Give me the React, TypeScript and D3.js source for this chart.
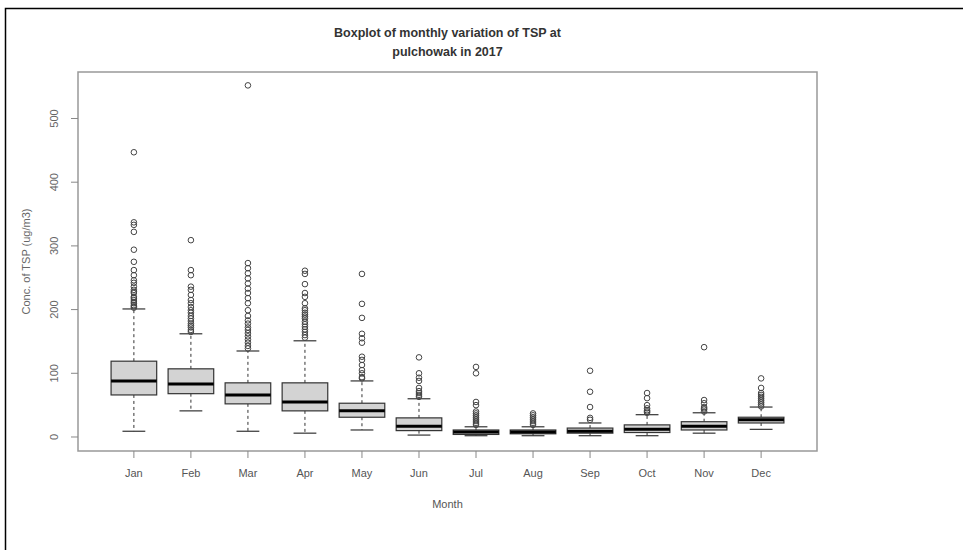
import React, { useEffect, useRef } from 'react';
import * as d3 from 'd3';

const months = ['Jan', 'Feb', 'Mar', 'Apr', 'May', 'Jun', 'Jul', 'Aug', 'Sep', 'Oct', 'Nov', 'Dec'];
const lowerWhisker = [9, 41, 9, 6, 11, 3, 2, 2, 2, 2, 6, 12];
const q1 = [66, 68, 52, 41, 31, 10, 4, 5, 6, 7, 11, 22];
const medians = [88, 83, 66, 55, 41, 17, 8, 8, 9, 12, 17, 27];
const q3 = [119, 107, 85, 85, 53, 30, 11, 11, 14, 19, 24, 31];
const upperWhisker = [201, 162, 135, 151, 88, 60, 16, 16, 22, 35, 38, 47];
const outliers = [
  [447, 337, 333, 322, 294, 275, 262, 254, 246, 242, 236, 231, 228, 226, 220, 218, 215, 212, 210, 207, 205, 203],
  [309, 262, 254, 236, 231, 223, 215, 210, 204, 199, 195, 190, 186, 182, 178, 175, 172, 168, 165],
  [552, 273, 265, 257, 249, 241, 233, 226, 218, 210, 199, 190, 183, 178, 172, 168, 163, 158, 153, 148, 143, 139],
  [261, 256, 240, 226, 220, 210, 202, 199, 195, 192, 189, 186, 181, 177, 173, 169, 165, 160, 156],
  [256, 209, 187, 162, 155, 148, 126, 121, 113, 105, 100, 94, 92],
  [125, 100, 93, 88, 77, 72, 69, 66, 63],
  [110, 100, 55, 50, 40, 37, 34, 31, 28, 25, 22, 19],
  [37, 34, 31, 28, 25, 22, 19],
  [104, 71, 47, 30, 27],
  [69, 61, 50, 45, 42, 40, 38],
  [141, 58, 53, 47, 45, 43, 40],
  [92, 77, 69, 66, 63, 60, 57, 54, 51, 48],
];
const yTicks = [0, 100, 200, 300, 400, 500];

const W = 963;
const H = 550;
const font = 'Liberation Sans, Arial, sans-serif';

const App: React.FC = () => {
  const svgRef = useRef<SVGSVGElement>(null);

  useEffect(() => {
    if (!svgRef.current) return;
    const svg = d3.select(svgRef.current);
    svg.selectAll('*').remove();

    const left = 78, right = 817, top = 72, bottom = 451;
    const x = d3.scaleLinear().domain([0.02, 12.98]).range([left, right]);
    const y = d3.scaleLinear().domain([-22, 573]).range([bottom, top]);
    const boxW = x(1.8) - x(1);
    const stapleW = boxW / 2;

    svg.append('rect').attr('width', W).attr('height', H).attr('fill', '#fff');

    // outer frame of the figure
    svg.append('path')
      .attr('d', `M5.5,${H} V8.5 H${W}`)
      .attr('fill', 'none')
      .attr('stroke', '#000')
      .attr('stroke-width', 1.5);

    // title
    svg.append('text')
      .attr('x', (left + right) / 2).attr('y', 37)
      .attr('text-anchor', 'middle')
      .attr('font-family', font).attr('font-size', 12.5).attr('font-weight', 'bold')
      .attr('fill', '#333')
      .text('Boxplot of monthly variation of TSP at');
    svg.append('text')
      .attr('x', (left + right) / 2).attr('y', 56)
      .attr('text-anchor', 'middle')
      .attr('font-family', font).attr('font-size', 12.5).attr('font-weight', 'bold')
      .attr('fill', '#333')
      .text('pulchowak in 2017');

    const g = svg.append('g');

    months.forEach((m, i) => {
      const cx = x(i + 1);
      // whiskers
      g.append('line')
        .attr('x1', cx).attr('x2', cx)
        .attr('y1', y(q3[i])).attr('y2', y(upperWhisker[i]))
        .attr('stroke', '#333').attr('stroke-dasharray', '3,3');
      g.append('line')
        .attr('x1', cx).attr('x2', cx)
        .attr('y1', y(q1[i])).attr('y2', y(lowerWhisker[i]))
        .attr('stroke', '#333').attr('stroke-dasharray', '3,3');
      // staples
      [upperWhisker[i], lowerWhisker[i]].forEach(v => {
        g.append('line')
          .attr('x1', cx - stapleW / 2).attr('x2', cx + stapleW / 2)
          .attr('y1', y(v)).attr('y2', y(v))
          .attr('stroke', '#333').attr('stroke-width', 1.2);
      });
      // box
      g.append('rect')
        .attr('x', cx - boxW / 2).attr('width', boxW)
        .attr('y', y(q3[i])).attr('height', y(q1[i]) - y(q3[i]))
        .attr('fill', '#d3d3d3').attr('stroke', '#333').attr('stroke-width', 1.2);
      // median
      g.append('line')
        .attr('x1', cx - boxW / 2).attr('x2', cx + boxW / 2)
        .attr('y1', y(medians[i])).attr('y2', y(medians[i]))
        .attr('stroke', '#000').attr('stroke-width', 3);
      // outliers
      g.selectAll(null)
        .data(outliers[i])
        .enter()
        .append('circle')
        .attr('cx', cx).attr('cy', d => y(d))
        .attr('r', 2.8)
        .attr('fill', 'none').attr('stroke', '#444').attr('stroke-width', 1);
    });

    // plot box
    svg.append('rect')
      .attr('x', left).attr('y', top)
      .attr('width', right - left).attr('height', bottom - top)
      .attr('fill', 'none').attr('stroke', '#999').attr('stroke-width', 1.5);

    // y axis
    const yAxis = svg.append('g').attr('transform', `translate(${left},0)`);
    yTicks.forEach(t => {
      yAxis.append('line')
        .attr('x1', -7).attr('x2', 0)
        .attr('y1', y(t)).attr('y2', y(t))
        .attr('stroke', '#888');
      yAxis.append('text')
        .attr('transform', `translate(-20,${y(t)}) rotate(-90)`)
        .attr('text-anchor', 'middle')
        .attr('font-family', font).attr('font-size', 11)
        .attr('fill', '#666')
        .text(t);
    });

    // x axis
    const xAxis = svg.append('g').attr('transform', `translate(0,${bottom})`);
    months.forEach((m, i) => {
      xAxis.append('line')
        .attr('x1', x(i + 1)).attr('x2', x(i + 1))
        .attr('y1', 0).attr('y2', 7)
        .attr('stroke', '#888');
      xAxis.append('text')
        .attr('x', x(i + 1)).attr('y', 26)
        .attr('text-anchor', 'middle')
        .attr('font-family', font).attr('font-size', 11)
        .attr('fill', '#555')
        .text(m);
    });

    // axis titles
    svg.append('text')
      .attr('x', (left + right) / 2).attr('y', 508)
      .attr('text-anchor', 'middle')
      .attr('font-family', font).attr('font-size', 11)
      .attr('fill', '#555')
      .text('Month');
    svg.append('text')
      .attr('transform', `translate(30,${(top + bottom) / 2}) rotate(-90)`)
      .attr('text-anchor', 'middle')
      .attr('font-family', font).attr('font-size', 11)
      .attr('fill', '#666')
      .text('Conc. of TSP (ug/m3)');
  }, []);

  return (
    <svg
      ref={svgRef}
      width={W}
      height={H}
      style={{ position: 'absolute', left: 0, top: 0, display: 'block' }}
    />
  );
};

export default App;
